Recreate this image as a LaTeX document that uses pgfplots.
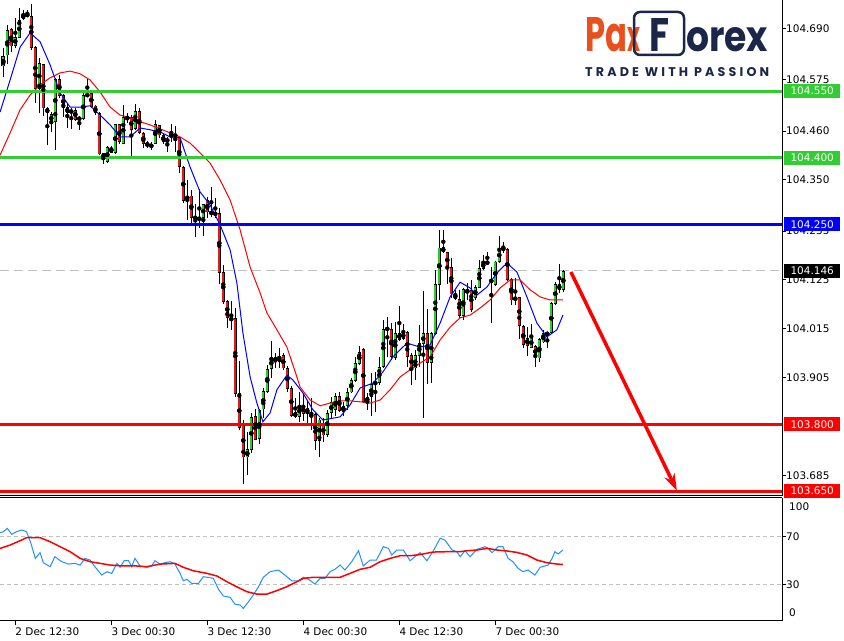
\documentclass[border=0pt]{standalone}
\usepackage{fontspec}
\setmainfont{DejaVu Sans}
\newfontfamily\logofont{Poppins}
\usepackage{graphicx}
\usepackage{pgfplots}
\usepackage{pgfplotstable}
\pgfplotsset{compat=1.18}
\usetikzlibrary{arrows.meta}

\definecolor{lvgreen}{RGB}{50,205,50}
\definecolor{bullfill}{RGB}{40,205,40}
\definecolor{bearfill}{RGB}{230,25,25}
\definecolor{oscblue}{RGB}{30,144,255}
\definecolor{paxorange}{RGB}{232,80,30}
\definecolor{paxnavy}{RGB}{27,38,72}
\definecolor{dashgray}{RGB}{192,192,192}
\newcommand\lab{\fontsize{10.5}{12}\selectfont}

% M30 candles, i = candle index, o h l c
\pgfplotstableread{
i o h l c
0 104.607 104.647 104.582 104.629
1 104.631 104.699 104.613 104.688
3 104.652 104.715 104.649 104.672
4 104.672 104.737 104.670 104.712
5 104.715 104.733 104.710 104.724
6 104.719 104.733 104.717 104.724
9 104.557 104.625 104.501 104.613
13 104.481 104.580 104.418 104.577
17 104.501 104.514 104.467 104.508
20 104.487 104.546 104.485 104.541
21 104.539 104.580 104.537 104.546
25 104.397 104.413 104.388 104.411
26 104.391 104.427 104.388 104.424
27 104.413 104.427 104.411 104.424
28 104.413 104.478 104.411 104.476
30 104.433 104.519 104.431 104.492
33 104.465 104.523 104.463 104.505
37 104.427 104.436 104.418 104.429
38 104.433 104.485 104.431 104.476
41 104.436 104.447 104.413 104.442
42 104.447 104.478 104.436 104.454
46 104.310 104.350 104.260 104.314
50 104.267 104.298 104.224 104.296
61 103.727 103.783 103.686 103.745
62 103.745 103.826 103.736 103.817
64 103.767 103.835 103.756 103.833
65 103.835 103.882 103.815 103.875
66 103.875 103.934 103.871 103.925
67 103.925 103.990 103.907 103.952
69 103.941 103.974 103.929 103.954
74 103.817 103.873 103.806 103.844
77 103.817 103.860 103.788 103.824
79 103.765 103.815 103.727 103.812
81 103.776 103.833 103.772 103.826
82 103.826 103.862 103.815 103.851
83 103.833 103.871 103.821 103.864
85 103.830 103.851 103.821 103.842
86 103.842 103.884 103.833 103.873
87 103.873 103.905 103.871 103.900
88 103.900 103.952 103.896 103.938
89 103.938 103.977 103.936 103.963
91 103.851 103.871 103.833 103.862
92 103.862 103.918 103.821 103.891
93 103.891 103.918 103.828 103.896
94 103.893 103.952 103.889 103.929
95 103.929 104.035 103.927 104.015
98 103.952 104.031 103.945 104.006
100 103.992 104.028 103.990 104.008
103 103.927 103.968 103.900 103.956
104 103.956 104.024 103.929 103.983
105 103.983 104.100 103.815 104.006
107 103.938 104.008 103.893 104.006
108 104.006 104.148 104.001 104.116
109 104.116 104.238 104.080 104.199
115 104.046 104.107 104.035 104.105
118 104.085 104.114 104.082 104.109
119 104.109 104.170 104.107 104.152
120 104.152 104.181 104.148 104.166
122 104.121 104.154 104.028 104.125
123 104.114 104.168 104.112 104.166
124 104.166 104.224 104.163 104.197
132 103.974 104.026 103.972 103.997
134 103.950 103.995 103.941 103.992
135 103.986 104.013 103.983 104.006
137 104.006 104.076 104.004 104.073
138 104.073 104.121 104.069 104.116
140 104.103 104.148 104.098 104.146
}\candleup

\pgfplotstableread{
i o h l c
2 104.690 104.692 104.638 104.652
7 104.719 104.746 104.643 104.649
8 104.649 104.652 104.523 104.557
10 104.611 104.613 104.496 104.512
11 104.512 104.514 104.429 104.501
12 104.499 104.503 104.458 104.481
14 104.577 104.586 104.535 104.541
15 104.541 104.544 104.492 104.514
16 104.514 104.523 104.467 104.501
18 104.508 104.514 104.485 104.487
19 104.490 104.496 104.463 104.487
22 104.546 104.548 104.514 104.517
23 104.517 104.519 104.496 104.501
24 104.501 104.503 104.406 104.409
29 104.476 104.478 104.433 104.436
31 104.494 104.503 104.481 104.487
32 104.492 104.496 104.404 104.463
34 104.505 104.512 104.454 104.456
35 104.456 104.458 104.424 104.433
36 104.433 104.438 104.424 104.427
39 104.474 104.476 104.447 104.451
40 104.451 104.456 104.433 104.436
43 104.454 104.472 104.413 104.447
44 104.447 104.451 104.368 104.379
45 104.379 104.382 104.298 104.305
47 104.314 104.328 104.249 104.265
48 104.267 104.298 104.222 104.265
49 104.267 104.330 104.244 104.262
51 104.305 104.312 104.265 104.278
52 104.278 104.334 104.267 104.276
53 104.276 104.310 104.265 104.274
54 104.276 104.289 104.118 104.143
55 104.143 104.159 104.073 104.078
56 104.078 104.080 104.017 104.040
57 104.040 104.078 104.013 104.037
58 104.040 104.062 103.862 103.869
59 103.871 103.943 103.788 103.794
60 103.803 103.810 103.668 103.727
63 103.819 103.835 103.765 103.767
68 103.952 103.961 103.929 103.941
70 103.956 103.961 103.923 103.927
71 103.927 103.932 103.873 103.882
72 103.882 103.887 103.817 103.821
73 103.828 103.860 103.815 103.817
75 103.842 103.873 103.810 103.824
76 103.839 103.855 103.803 103.826
78 103.824 103.826 103.743 103.765
80 103.799 103.815 103.761 103.776
84 103.864 103.873 103.828 103.830
90 103.968 103.972 103.848 103.851
96 104.017 104.042 103.952 104.015
97 104.015 104.028 103.945 103.952
99 104.006 104.069 103.990 103.992
101 104.008 104.010 103.929 103.952
102 103.956 103.961 103.889 103.927
106 104.006 104.062 103.893 103.938
110 104.199 104.238 104.186 104.188
111 104.188 104.190 104.118 104.154
112 104.154 104.175 104.085 104.094
113 104.094 104.103 104.080 104.082
114 104.082 104.103 104.042 104.046
116 104.105 104.118 104.080 104.098
117 104.103 104.125 104.053 104.058
121 104.166 104.188 104.163 104.164
125 104.197 104.210 104.186 104.195
126 104.195 104.197 104.123 104.127
127 104.127 104.130 104.069 104.080
128 104.087 104.130 104.069 104.080
129 104.087 104.089 103.995 104.022
130 104.022 104.024 103.974 103.979
131 103.995 104.019 103.954 103.979
133 103.977 103.979 103.929 103.952
136 104.006 104.008 103.972 104.004
139 104.116 104.163 104.098 104.103
}\candledn

% fast MA (blue)
\pgfplotstableread{
i p
-0.8 104.503
1.7 104.575
4.2 104.649
6.7 104.681
9.2 104.661
11.7 104.609
14.2 104.546
16.7 104.514
19.2 104.514
21.7 104.517
24.2 104.496
26.7 104.474
29.2 104.447
31.7 104.447
34.2 104.467
36.7 104.463
39.2 104.458
41.7 104.447
44.2 104.445
46.7 104.379
49.2 104.323
51.7 104.294
54.2 104.249
56.7 104.193
58.4 104.118
59.9 104.006
61.7 103.907
63.4 103.848
64.9 103.806
66.7 103.826
68.4 103.878
70.9 103.911
72.4 103.900
74.9 103.871
77.4 103.833
79.9 103.810
84.2 103.817
86.7 103.844
89.2 103.882
92.4 103.893
94.9 103.918
97.4 103.952
100.9 103.983
104.2 103.974
106.7 103.979
109.2 104.028
111.7 104.087
114.2 104.120
116.7 104.107
118.4 104.091
120.9 104.109
123.4 104.141
125.9 104.163
128.4 104.143
130.9 104.087
133.4 104.028
135.9 103.997
138.4 104.013
139.9 104.046
}\mafast

% slow MA (red)
\pgfplotstableread{
i p
-0.8 104.406
1.7 104.456
4.2 104.508
6.7 104.541
9.2 104.564
11.7 104.580
14.2 104.591
16.7 104.595
19.2 104.589
21.7 104.575
24.2 104.548
26.7 104.514
29.2 104.496
31.7 104.490
34.2 104.481
36.7 104.474
39.2 104.465
41.7 104.456
44.2 104.447
46.7 104.433
49.2 104.411
51.7 104.388
54.2 104.350
56.7 104.305
59.2 104.238
61.7 104.154
64.2 104.096
65.9 104.051
68.4 104.013
70.9 103.974
73.4 103.907
74.2 103.884
76.7 103.855
79.2 103.842
81.7 103.848
84.2 103.853
86.7 103.853
89.2 103.851
91.7 103.848
94.2 103.855
96.7 103.878
99.2 103.907
101.7 103.923
104.2 103.938
106.7 103.952
109.2 103.990
111.7 104.019
114.2 104.040
116.7 104.046
119.2 104.062
121.7 104.080
124.2 104.107
126.7 104.125
129.2 104.125
131.7 104.103
134.2 104.087
136.7 104.080
139.9 104.080
}\maslow

% oscillator
\pgfplotstableread{
i v
-0.8 73.4
0 74.2
1 77
2.1 72
3.3 74.2
4.6 75.6
5.8 74.2
6.9 64.5
8 51.8
9.2 56.6
10 48.2
11.7 44.8
12.9 53.2
14.6 49
16.3 47
17.9 47.6
19.2 46.2
20.4 51.8
21.7 50.4
22.9 44.8
24.6 37.8
25.9 40.6
27.1 39.2
28.4 47.6
29.2 44.3
30.2 49.8
31.3 49.8
32.1 44.8
32.9 51.8
34.2 45.4
35.9 44.3
37.1 45.4
37.9 49.8
39.2 47
40.4 48.2
41.7 49
42.9 47
44.2 39.2
45 33
45.9 34.2
47.1 30.8
48.8 30.8
50 36.4
51.3 35.8
52.5 35
53.8 25.8
55 20.2
56.7 19.1
57.9 13.4
59.2 12.6
60 9.8
61.3 15.4
62.5 21
63.8 28
65 35.9
66.7 40.6
68.8 42
70.4 37.8
72.1 33
73.8 33
75 35.9
76.3 34.2
77.9 30.3
79.2 35
80.4 35
81.7 40.6
82.9 42.6
84.2 46.2
85.4 42
87.1 49
88.8 58.2
90 45.4
91.7 50.4
93.3 50.4
95 61.6
96.3 60.2
97.1 54.6
98.4 58.8
100 58.8
101.7 49.8
103.4 54.6
104.2 56.6
105.9 49.8
107.4 57.4
109.2 68.7
110.4 67.2
112.2 58.8
113.4 57.4
114.2 53.2
115.4 58.2
116.7 53.2
118.4 59.4
120.4 61.6
121.2 60.2
122.2 56.6
123.7 61.6
124.9 61.6
126.2 51.8
127.4 49
128.7 43.4
129.9 40.6
131.2 42
132.9 37.8
134.2 44.3
135.4 45.4
136.2 46.2
137.2 51.8
137.9 57.4
138.7 55.5
139.9 58.8
}\oscmain

\pgfplotstableread{
i v
-0.8 60.2
1.7 63
4.2 66.6
5.8 69.2
9.2 69.2
11.7 65.8
14.2 61.6
16.7 57.4
19.2 51.8
21.7 49
24.2 47.6
26.7 46.2
29.2 45.6
32.5 45.6
35.8 44.8
39.2 47
42.9 47.6
45 44.3
47.5 41.4
50.9 39.2
53.4 37
55.9 32.2
58.3 28
60.9 23.8
63.4 21.8
65.9 21.8
68.3 24.6
70.9 28
73.4 32.2
75 35
77.5 35.9
80.9 35.9
84.2 35.9
86.7 39.2
89.2 42.6
91.7 44.3
94.2 49
96.7 51.8
99.2 54
101.7 54
104.2 55
107.4 57.1
110.9 57.4
114.2 57.4
115.9 58.2
118.4 58.8
120.9 60.2
123.4 58.8
125.9 58
128.4 56.8
130.9 54.6
133.4 50.4
135.9 48.2
138.4 47
139.9 46.7
}\oscsignal

\pgfplotsset{
  wick/.style={only marks, mark=none, forget plot,
    error bars/.cd, y dir=both, y explicit, error mark=none,
    error bar style={line width=1bp, black}},
  bodyout/.style={only marks, mark=none, forget plot,
    error bars/.cd, y dir=both, y explicit, error mark=none,
    error bar style={line width=3.6bp, black}},
  bodyin/.style={only marks, mark=none, forget plot,
    error bars/.cd, y dir=both, y explicit, error mark=none,
    error bar style={line width=1.8bp, #1}},
}

\begin{document}
\begin{tikzpicture}
\path[use as bounding box] (0,0) rectangle (844bp,641bp);

\begin{axis}[
  at={(0bp,641bp)}, anchor=north west,
  scale only axis, width=782bp, height=496bp,
  xmin=-0.825, xmax=194.675, ymin=103.639, ymax=104.755,
  axis x line*=bottom, axis y line*=right,
  axis line style={line width=1bp, black},
  xtick=\empty,
  ytick={103.685,103.905,104.015,104.125,104.235,104.350,104.460,104.575,104.690},
  yticklabels={103.685,103.905,104.015,104.125,104.235,104.350,104.460,104.575,104.690},
  yticklabel style={font=\lab, anchor=west, inner sep=0pt},
  tick align=outside, major tick length=4bp,
  tick style={line width=1bp, black},
]
\addplot[dashgray, line width=1bp, dash pattern=on 9bp off 5bp, forget plot] coordinates {(-0.825,104.146) (194.675,104.146)};

\addplot[wick] table[x=i, y expr={(\thisrow{h}+\thisrow{l})/2}, y error expr={(\thisrow{h}-\thisrow{l})/2}] {\candleup};
\addplot[wick] table[x=i, y expr={(\thisrow{h}+\thisrow{l})/2}, y error expr={(\thisrow{h}-\thisrow{l})/2}] {\candledn};
\addplot[bodyout] table[x=i, y expr={(\thisrow{o}+\thisrow{c})/2}, y error expr={(\thisrow{c}-\thisrow{o})/2+0.0004}] {\candleup};
\addplot[bodyout] table[x=i, y expr={(\thisrow{o}+\thisrow{c})/2}, y error expr={(\thisrow{o}-\thisrow{c})/2+0.0004}] {\candledn};
\addplot[bodyin=bullfill] table[x=i, y expr={(\thisrow{o}+\thisrow{c})/2}, y error expr={max((\thisrow{c}-\thisrow{o})/2-0.0016,0)}] {\candleup};
\addplot[bodyin=bearfill] table[x=i, y expr={(\thisrow{o}+\thisrow{c})/2}, y error expr={max((\thisrow{o}-\thisrow{c})/2-0.0016,0)}] {\candledn};

\addplot[blue, line width=1bp, mark=none] table[x=i, y=p] {\mafast};
\addplot[red, line width=1bp, mark=none] table[x=i, y=p] {\maslow};

\addplot[lvgreen, line width=3bp] coordinates {(-0.825,104.550) (194.675,104.550)};
\addplot[lvgreen, line width=3bp] coordinates {(-0.825,104.400) (194.675,104.400)};
\addplot[blue, line width=3bp] coordinates {(-0.825,104.250) (194.675,104.250)};
\addplot[red, line width=3bp] coordinates {(-0.825,103.800) (194.675,103.800)};
\addplot[red, line width=3bp] coordinates {(-0.825,103.650) (194.675,103.650)};

\draw[red, line width=3.5bp, -{Stealth[length=17bp, width=11bp]}] (axis cs:141.9,104.143) -- (axis cs:168.4,103.651);

\coordinate (L1) at (axis cs:194.675,104.550);
\coordinate (L2) at (axis cs:194.675,104.400);
\coordinate (L3) at (axis cs:194.675,104.250);
\coordinate (L4) at (axis cs:194.675,104.146);
\coordinate (L5) at (axis cs:194.675,103.800);
\coordinate (L6) at (axis cs:194.675,103.650);
\end{axis}

\begin{axis}[
  at={(0bp,143bp)}, anchor=north west,
  scale only axis, width=782bp, height=123bp,
  xmin=-0.825, xmax=194.675, ymin=-0.8, ymax=102.5,
  axis x line*=bottom, axis y line*=right,
  axis line style={line width=1bp, black},
  xtick={3,27,51,75,99,123},
  xticklabels={2 Dec 12:30,3 Dec 00:30,3 Dec 12:30,4 Dec 00:30,4 Dec 12:30,7 Dec 00:30},
  xticklabel style={font=\lab, anchor=north west, inner sep=0pt, yshift=-3bp},
  ytick={30,70}, yticklabels={30,70},
  yticklabel style={font=\lab, anchor=west, inner sep=0pt},
  tick align=outside, major tick length=4bp,
  tick style={line width=1bp, black},
]
\addplot[dashgray, line width=1bp, dash pattern=on 4bp off 3bp] coordinates {(-0.825,70) (194.675,70)};
\addplot[dashgray, line width=1bp, dash pattern=on 4bp off 3bp] coordinates {(-0.825,30) (194.675,30)};
\addplot[oscblue, line width=1bp, mark=none] table[x=i, y=v] {\oscmain};
\addplot[red, line width=1.5bp, mark=none] table[x=i, y=v] {\oscsignal};
\draw[line width=1bp, black] (rel axis cs:0,1) -- (rel axis cs:1,1);
\end{axis}

% price tags on the scale
\tikzset{tag/.style={anchor=west, inner sep=0pt, minimum width=56bp, minimum height=14bp, text=white, font=\lab}}
\node[tag, fill=lvgreen] at ([xshift=2bp]L1) {104.550};
\node[tag, fill=lvgreen] at ([xshift=2bp]L2) {104.400};
\node[tag, fill=blue] at ([xshift=2bp]L3) {104.250};
\node[tag, fill=black] at ([xshift=2bp]L4) {104.146};
\node[tag, fill=red] at ([xshift=2bp]L5) {103.800};
\node[tag, fill=red] at ([xshift=2bp]L6) {103.650};
\node[anchor=west, inner sep=0pt, font=\lab] at (789bp,134bp) {100};
\node[anchor=west, inner sep=0pt, font=\lab] at (789bp,28bp) {0};

% logo
\node[anchor=base west, inner sep=0pt, text=paxorange] at (585bp,589bp) {\resizebox{42bp}{34bp}{\logofont\bfseries Pa}};
\node[anchor=base west, inner sep=0pt, text=paxorange] at (627bp,589bp) {\resizebox{13bp}{24bp}{\logofont\bfseries x}};
\draw[paxnavy, line width=2.5bp, rounded corners=6bp] (634bp,586bp) rectangle (684bp,629bp);
\node[anchor=base west, inner sep=0pt, text=paxnavy] at (649bp,589bp) {\resizebox{20bp}{33bp}{\logofont\bfseries F}};
\node[anchor=base west, inner sep=0pt, text=paxnavy] at (686bp,589bp) {\resizebox{82bp}{24bp}{\logofont\bfseries orex}};
\node[anchor=west, inner sep=0pt, text=paxnavy] at (585bp,568.5bp) {\resizebox{184bp}{9bp}{\logofont\bfseries\addfontfeature{LetterSpace=25}TRADE WITH PASSION}};
\end{tikzpicture}
\end{document}
